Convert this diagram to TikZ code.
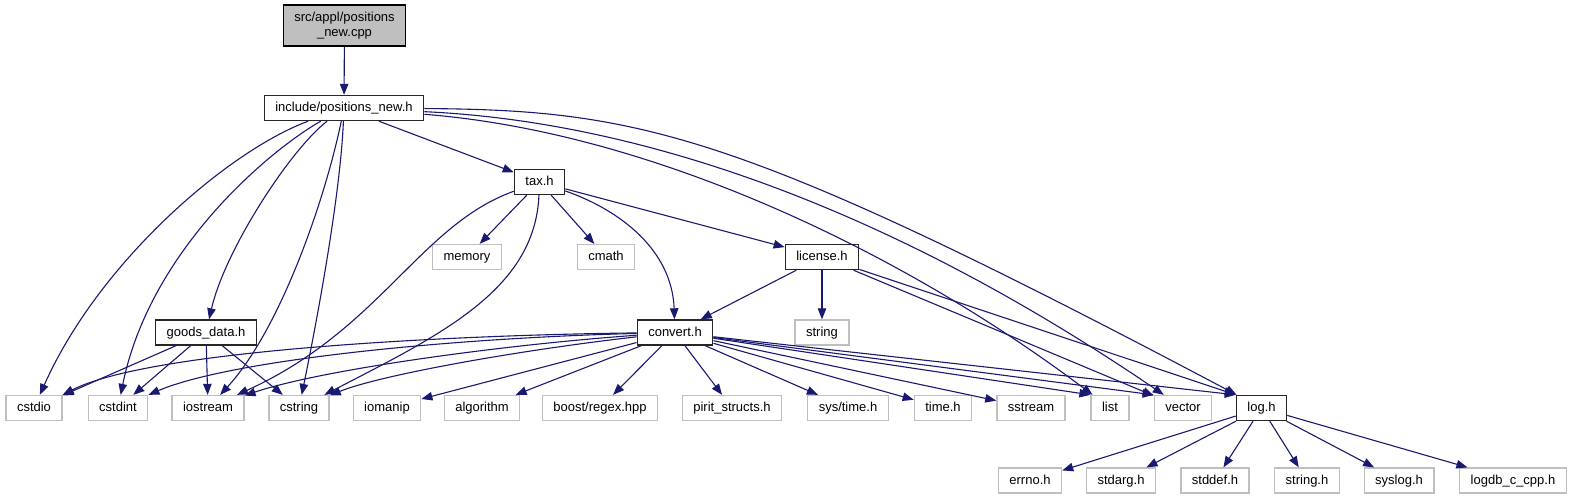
\documentclass[tikz,border=0pt]{standalone}
\usepackage{fontspec}
\setmainfont{Liberation Sans}
\usetikzlibrary{arrows.meta}

\definecolor{edgeblue}{HTML}{191970}
\definecolor{boxgray}{HTML}{BFBFBF}

\begin{document}
\begin{tikzpicture}[x=1pt, y=-1pt, >={Triangle[length=11pt, width=8.5pt]},
  box/.style={font=\fontsize{13}{15}\selectfont, inner xsep=11pt, inner ysep=0pt,
    minimum height=25pt, text height=9.5pt, text depth=2.5pt, fill=white},
  doc/.style={box, draw=black!85, line width=1.4pt},
  sys/.style={box, draw=boxgray, line width=1.3pt},
  inc/.style={->, draw=edgeblue, line width=1.1pt}]
  % Include graph of positions_new.cpp

  \useasboundingbox (0,0) rectangle (1571,500);

  % Source file and its headers
  \node[draw=black, line width=1.4pt, fill=boxgray, align=center, minimum height=41pt,
    inner xsep=11pt, font=\fontsize{13}{15}\selectfont] (top) at (344.5,25.5)
    {src/appl/positions\\\_new.cpp};
  \node[doc] (incl) at (344,108) {include/positions\_new.h};
  \node[doc] (tax) at (539.5,182) {tax.h};
  \node[sys] (memory) at (467,257) {memory};
  \node[sys] (cmath) at (606,257) {cmath};
  \node[doc] (license) at (822,257) {license.h};
  \node[doc] (goods) at (206,332.5) {goods\_data.h};
  \node[doc] (convert) at (675,332.5) {convert.h};
  \node[sys] (strng) at (822,332.5) {string};

  % Row of library headers
  \node[sys] (cstdio) at (34,408) {cstdio};
  \node[sys] (cstdint) at (118,408) {cstdint};
  \node[sys] (iostream) at (208,408) {iostream};
  \node[sys] (cstring) at (299,408) {cstring};
  \node[sys] (iomanip) at (387,408) {iomanip};
  \node[sys] (algorithm) at (482,408) {algorithm};
  \node[sys] (boost) at (600,408) {boost/regex.hpp};
  \node[sys] (pirit) at (732,408) {pirit\_structs.h};
  \node[sys] (systime) at (848,408) {sys/time.h};
  \node[sys] (timeh) at (943,408) {time.h};
  \node[sys] (sstream) at (1031,408) {sstream};
  \node[sys] (list) at (1110,408) {list};
  \node[sys] (vector) at (1183,408) {vector};
  \node[doc] (log) at (1261.5,408) {log.h};

  % Headers of log.h
  \node[sys] (errno) at (1030,480.5) {errno.h};
  \node[sys] (stdarg) at (1121,480.5) {stdarg.h};
  \node[sys] (stddef) at (1215,480.5) {stddef.h};
  \node[sys] (stringh) at (1307,480.5) {string.h};
  \node[sys] (syslog) at (1399,480.5) {syslog.h};
  \node[sys] (logdb) at (1513,480.5) {logdb\_c\_cpp.h};

  % positions_new.cpp
  \draw[inc] (top) -- (incl);

  % positions_new.h
  \draw[inc] (incl) .. controls (230,150) and (100,260) .. (cstdio);
  \draw[inc] (incl) .. controls (270,150) and (150,250) .. (cstdint);
  \draw[inc] (incl) .. controls (290,150) and (225,250) .. (goods);
  \draw[inc] (incl) .. controls (325,200) and (280,330) .. (iostream);
  \draw[inc] (incl) .. controls (340,200) and (315,330) .. (cstring);
  \draw[inc] (incl) -- (tax);
  \draw[inc] (incl) .. controls (650,132) and (900,250) .. (list);
  \draw[inc] (incl) .. controls (650,122) and (900,215) .. (vector);
  \draw[inc] (incl) .. controls (640,110) and (740,132) .. (log);

  % tax.h
  \draw[inc] (tax) -- (memory);
  \draw[inc] (tax) -- (cmath);
  \draw[inc] (tax) -- (license);
  \draw[inc] (tax) .. controls (620,210) and (672,250) .. (convert);
  \draw[inc] (tax) .. controls (420,225) and (380,330) .. (iostream);
  \draw[inc] (tax) .. controls (535,290) and (440,335) .. (cstring);

  % goods_data.h
  \draw[inc] (goods) -- (cstdio);
  \draw[inc] (goods) -- (cstdint);
  \draw[inc] (goods) -- (iostream);
  \draw[inc] (goods) -- (cstring);

  % license.h
  \draw[inc] (license) -- (convert);
  \draw[inc] (license) -- (strng);
  \draw[inc] (license) -- (vector);
  \draw[inc] (license) -- (log.north west);

  % convert.h
  \draw[inc] (convert) .. controls (450,335) and (150,350) .. (cstdio.north east);
  \draw[inc] (convert) .. controls (450,338) and (230,360) .. (cstdint.north east);
  \draw[inc] (convert) .. controls (500,345) and (320,370) .. (iostream);
  \draw[inc] (convert) .. controls (520,350) and (380,375) .. (cstring);
  \draw[inc] (convert) -- (iomanip);
  \draw[inc] (convert) -- (algorithm);
  \draw[inc] (convert) -- (boost);
  \draw[inc] (convert) -- (pirit);
  \draw[inc] (convert) -- (systime);
  \draw[inc] (convert) -- (timeh);
  \draw[inc] (convert) -- (sstream);
  \draw[inc] (convert) -- (list.north west);
  \draw[inc] (convert) -- (vector.north west);
  \draw[inc] (convert) -- (log.north west);

  % log.h
  \draw[inc] (log) -- (errno);
  \draw[inc] (log) -- (stdarg);
  \draw[inc] (log) -- (stddef);
  \draw[inc] (log) -- (stringh);
  \draw[inc] (log) -- (syslog);
  \draw[inc] (log) -- (logdb);
\end{tikzpicture}
\end{document}
